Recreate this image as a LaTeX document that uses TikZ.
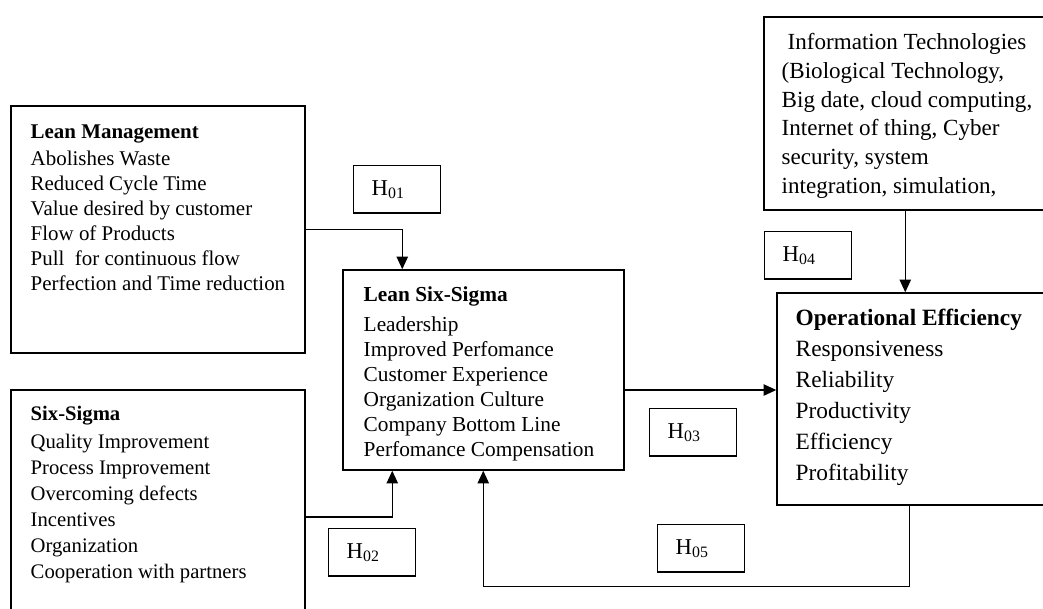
\documentclass[tikz,border=0pt]{standalone}
\usepackage{fontspec}
\setmainfont{Liberation Serif}
\usetikzlibrary{arrows.meta,fit}
\begin{document}
\begin{tikzpicture}[x=0.75pt,y=-0.75pt,line width=1.1pt,>={Triangle[length=9.5pt,width=8.5pt]}]
	\tikzset{box/.style={draw,inner sep=0pt},
		txt/.style={anchor=north west,align=left,inner sep=0pt},
		hyp/.style={draw,anchor=north west,minimum width=65pt,minimum height=35.5pt,
			inner xsep=13.5pt,text width=38pt,align=left,font=\fontsize{17}{20}\selectfont}}
	\useasboundingbox (0,0) rectangle (1043,608);
	\clip (0,0) rectangle (1043,608);
	% boxes
	\node[box,fit={(11,106) (305,353)}] (lean) {};
	\node[box,fit={(11,390) (305,644)}] (six) {};
	\node[box,fit={(343,270) (624,470)}] (lss) {};
	\node[box,fit={(777,293) (1100,505)}] (opeff) {};
	\node[box,fit={(764,17) (1100,210)}] (it) {};
	% texts
	\node[txt,font=\fontsize{15.7}{18.75}\selectfont] (leantxt) at (30,124)
	{\textbf{Lean Management}\\[1.5pt]Abolishes Waste\\Reduced Cycle Time\\Value desired by customer\\Flow of Products\\Pull\ \ for continuous flow\\Perfection and Time reduction};
	\node[txt,font=\fontsize{15.5}{19.5}\selectfont] (sixtxt) at (30,405)
	{\textbf{Six-Sigma}\\[1.5pt]Quality Improvement\\Process Improvement\\Overcoming defects\\Incentives\\Organization\\Cooperation with partners};
	\node[txt,font=\fontsize{16}{18.75}\selectfont] (lsstxt) at (363,286)
	{\textbf{Lean Six-Sigma}\\[4pt]Leadership\\Improved Perfomance\\Customer Experience\\Organization Culture\\Company Bottom Line\\Perfomance Compensation};
	\node[txt,font=\fontsize{17.5}{23.25}\selectfont] (opefftxt) at (795,308)
	{\textbf{Operational Efficiency}\\Responsiveness\\Reliability\\Productivity\\Efficiency\\Profitability};
	\node[txt,font=\fontsize{17.3}{21.5}\selectfont] (ittxt) at (781,33)
	{\hspace{4.5pt}Information Technologies\\(Biological Technology,\\Big date, cloud computing,\\Internet of thing, Cyber\\security, system\\integration, simulation,};
	% hypotheses
	\foreach \n/\x/\y in {01/353/165, 02/328/528, 03/649/408, 04/764/231, 05/657/524}
	\node[hyp] (h\n) at (\x,\y) {H\textsubscript{\n}};
	% links
	\draw[->] (lean.east) -| ([xshift=45pt]lss.north west);
	\draw[->] (six.east) -| ([xshift=37.5pt]lss.south west);
	\draw[->] ([yshift=-15pt]lss.east) -- ([yshift=-15pt]lss.east -| opeff.west);
	\draw[->] ([xshift=106.5pt]it.south west) -- ([xshift=106.5pt]it.south west |- opeff.north);
	\draw[->] ([xshift=99.75pt]opeff.south west) -- ++(0,81) -| ([xshift=105.75pt]lss.south west);
\end{tikzpicture}
\end{document}
